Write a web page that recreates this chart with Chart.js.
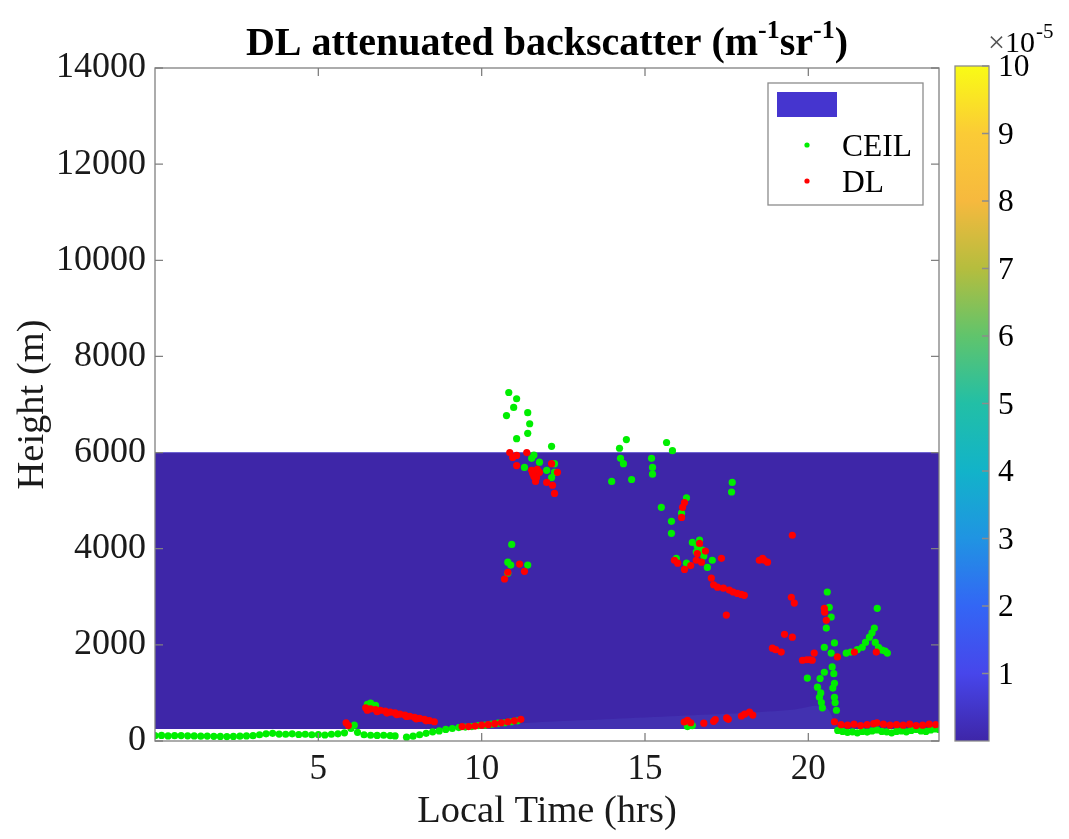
<!DOCTYPE html>
<html>
<head>
<meta charset="utf-8">
<title>DL attenuated backscatter</title>
<script src="https://cdn.jsdelivr.net/npm/chart.js@4.4.1/dist/chart.umd.min.js"></script>
<style>
html,body{margin:0;padding:0;background:#fff}
canvas{display:block}
</style>
</head>
<body>
<canvas id="myChart" width="1069" height="839"></canvas>
<script>
// ticks
const timeTicks = [5, 10, 15, 20];
const heightTicks = [0, 2000, 4000, 6000, 8000, 10000, 12000, 14000];
const cbarTicks = [1, 2, 3, 4, 5, 6, 7, 8, 9, 10];

// backscatter curtain (range of the DL data)
const layerTime = [0, 24];
const layerTop = [6000, 6000];
const layerBase = 250;

// faint aerosol haze at the bottom of the curtain
const hazeTime = [9.5, 10.5, 12, 14, 16, 18, 19.5, 20.5, 20.9];
const hazeTop = [260, 330, 400, 460, 520, 580, 650, 720, 260];

// CEIL cloud base, green
const ceilLowTime = [0.0,0.2,0.4,0.6,0.8,1.0,1.2,1.4,1.6,1.8,2.0,2.2,2.4,2.6,2.8,3.0,3.2,3.4,3.6,3.8,4.0,4.2,4.4,4.6,4.8,5.0,5.2,5.4,5.6,5.8,6.0,6.1,6.2,6.4,6.6,6.8,7.0,7.2,7.35];
const ceilLowHeight = [110,115,105,110,112,108,105,100,102,98,95,92,95,100,105,110,130,150,160,145,140,150,135,140,130,135,125,140,150,170,260,330,180,130,120,115,120,110,105];
const ceilRiseTime = [7.7,7.9,8.1,8.3,8.5,8.7,8.9,9.1,9.3,9.5,9.7,9.9,10.1,10.3,10.5,10.7,10.9,11.1,6.5,6.6,6.75];
const ceilRiseHeight = [80,100,130,160,190,210,240,260,280,290,300,320,330,350,370,380,400,420,760,790,740];
const ceilCloudTime = [10.83,11.07,10.98,10.76,11.41,11.47,11.41,11.07,12.14,14.22,14.43,14.25,14.34,13.98,14.59,15.20,15.23,15.23,15.66,15.84,15.50,15.81,15.81,16.27,16.12,
  11.53,11.31,11.77,11.99,12.23,12.23,12.14,11.6,
  10.92,10.80,10.89,11.41,10.80,
  16.45,16.67,16.76,15.96,17.06,16.57,16.27,16.91,16.6,16.8,17.67,17.65];
const ceilCloudHeight = [7250,7120,6940,6770,6830,6600,6400,6290,6130,6090,6270,5880,5770,5400,5440,5880,5690,5550,6210,6040,4860,4570,4320,5060,4740,
  5880,5690,5800,5630,5770,5590,5480,5950,
  4090,3720,3660,3660,3490,
  4130,4180,3970,3800,3760,3930,3700,3610,4050,3850,5380,5180];
const ceilEveTime = [20.58,20.64,20.70,20.55,20.49,20.70,20.73,20.49,19.97,20.28,20.34,20.43,20.80,20.80,20.86,21.16,21.65,21.87,22.02,22.11,22.26,22.42,20.80,
  20.38,20.40,20.36,20.75,20.82,20.78,21.3,21.5,21.75,21.95,22.05,22.15,22.35,16.3,16.45];
const ceilEveHeight = [3100,2780,2580,2350,1950,1830,1540,1430,1310,1120,910,690,1200,910,640,1830,1950,2160,2350,2760,1890,1830,2040,
  1000,800,1300,1100,800,1400,1850,1900,2050,2250,2050,1950,1870,300,320];
const ceilNightTime = [20.9,21.05,21.2,21.35,21.5,21.65,21.8,21.95,22.1,22.25,22.4,22.55,22.7,22.85,23.0,23.15,23.3,23.45,23.6,23.75,23.9,24.0];
const ceilNightHeight = [220,200,180,190,170,200,185,210,230,200,190,170,200,210,190,220,240,210,200,230,250,240];

// DL cloud base, red
const dlLowTime = [5.85,5.92,6.45,6.6,6.75,6.9,7.05,7.2,7.35,7.5,7.65,7.8,7.95,8.1,8.25,8.4,8.55,
  6.5,6.8,7.1,7.4,7.7,8.0,8.3,
  9.4,9.6,9.8,10.0,10.2,10.4,10.6,10.8,11.0,11.2];
const dlLowHeight = [380,320,690,670,655,640,620,600,585,560,540,515,490,470,450,425,400,
  640,610,580,550,510,460,420,
  300,300,310,330,340,360,380,400,420,450];
const dlCloudTime = [10.86,11.07,11.38,11.07,11.56,11.68,11.53,11.99,12.17,12.23,12.32,12.14,11.77,11.65,11.6,11.7,10.95,
  10.80,10.70,11.16,11.31,
  16.21,16.15,16.12];
const dlCloudHeight = [6000,5940,6000,5730,5570,5480,5630,5380,5320,5150,5590,5770,5590,5400,5500,5650,5900,
  3510,3370,3680,3530,
  4960,4860,4650];
const dlEveTime = [15.90,16.21,16.57,16.73,16.67,17.34,17.03,17.22,17.58,17.83,18.04,17.49,18.65,18.50,19.51,19.48,19.57,19.27,19.51,18.90,19.17,19.82,20.12,20.18,20.49,20.55,20.89,21.41,22.08,
  16.0,16.4,16.6,16.85,17.1,17.4,17.7,17.95,18.6,18.75,19.0,19.95,20.05,20.5];
const dlEveHeight = [3760,3570,3760,3720,4110,3800,3390,3200,3140,3070,3030,2620,3760,3760,4280,2990,2870,2220,2160,1930,1850,1680,1680,1830,2760,2510,1750,1850,1850,
  3700,3650,3900,3950,3250,3180,3100,3050,3800,3720,1900,1690,1690,2680];
const dlNightTime = [16.2,16.3,16.4,16.8,17.1,17.15,17.5,17.55,17.95,18.05,18.2,18.3,
  20.8,21.0,21.2,21.4,21.6,21.8,22.0,22.1,22.3,22.5,22.7,22.9,23.1,23.3,23.5,23.7,23.9];
const dlNightHeight = [395,430,380,370,410,445,480,450,520,560,600,540,
  400,340,330,350,320,340,360,380,350,330,340,330,350,320,330,350,340];

const serif = '"Liberation Serif", "Times New Roman", serif';
const ink = '#1a1a1a';

function pts(t, h) { return t.map((v, i) => ({x: v, y: h[i]})); }

const ceilPts = [].concat(pts(ceilLowTime, ceilLowHeight), pts(ceilRiseTime, ceilRiseHeight),
  pts(ceilCloudTime, ceilCloudHeight), pts(ceilEveTime, ceilEveHeight), pts(ceilNightTime, ceilNightHeight));
const dlPts = [].concat(pts(dlLowTime, dlLowHeight), pts(dlCloudTime, dlCloudHeight),
  pts(dlEveTime, dlEveHeight), pts(dlNightTime, dlNightHeight));

// old-style parula colour stops
const parula = [[0,'#3e26a8'],[0.1,'#4746eb'],[0.2,'#3366f5'],[0.3,'#2094e2'],[0.4,'#12b3c9'],
  [0.5,'#22bfa6'],[0.6,'#60c46c'],[0.7,'#b5bd3e'],[0.8,'#f6b93e'],[0.9,'#fbcb36'],[1,'#f9fb15']];

function richText(ctx, parts, cx, base, size) {
  let w = 0;
  parts.forEach(p => {
    ctx.font = 'bold ' + (p.sup ? size * 0.65 : size) + 'px ' + serif;
    p.w = ctx.measureText(p.t).width;
    w += p.w;
  });
  let x = cx - w / 2;
  parts.forEach(p => {
    ctx.font = 'bold ' + (p.sup ? size * 0.65 : size) + 'px ' + serif;
    ctx.fillText(p.t, x, p.sup ? base - size * 0.42 : base);
    x += p.w;
  });
}

const decor = {
  id: 'decor',
  afterDraw(chart) {
    const {ctx, chartArea: a} = chart;
    const sx = chart.scales.x, sy = chart.scales.y;
    ctx.save();

    // box and inside ticks
    ctx.strokeStyle = '#808080';
    ctx.lineWidth = 1.3;
    ctx.beginPath();
    sx.ticks.forEach(t => {
      const px = sx.getPixelForValue(t.value);
      ctx.moveTo(px, a.bottom); ctx.lineTo(px, a.bottom - 8);
      ctx.moveTo(px, a.top); ctx.lineTo(px, a.top + 8);
    });
    sy.ticks.forEach(t => {
      const py = sy.getPixelForValue(t.value);
      ctx.moveTo(a.left, py); ctx.lineTo(a.left + 8, py);
      ctx.moveTo(a.right, py); ctx.lineTo(a.right - 8, py);
    });
    ctx.stroke();
    ctx.strokeRect(a.left, a.top, a.right - a.left, a.bottom - a.top);

    // title
    ctx.fillStyle = '#000';
    ctx.textBaseline = 'alphabetic';
    ctx.textAlign = 'left';
    richText(ctx, [{t: 'DL attenuated backscatter (m'}, {t: '-1', sup: true}, {t: 'sr'},
      {t: '-1', sup: true}, {t: ')'}], (a.left + a.right) / 2, 55, 40);

    // legend
    const lx = 768, ly = 83, lw = 155, lh = 122;
    ctx.fillStyle = '#fff';
    ctx.fillRect(lx, ly, lw, lh);
    ctx.strokeStyle = '#8c8c8c';
    ctx.lineWidth = 1.3;
    ctx.strokeRect(lx, ly, lw, lh);
    ctx.fillStyle = '#4535cf';
    ctx.fillRect(777, 92, 60, 25);
    ctx.fillStyle = '#00ee00';
    ctx.beginPath(); ctx.arc(807, 145, 2.6, 0, Math.PI * 2); ctx.fill();
    ctx.fillStyle = '#ff0000';
    ctx.beginPath(); ctx.arc(807, 181, 2.6, 0, Math.PI * 2); ctx.fill();
    ctx.fillStyle = '#000';
    ctx.font = '31.5px ' + serif;
    ctx.fillText('CEIL', 842, 156);
    ctx.fillText('DL', 842, 192);

    // colorbar
    const cx0 = 955, cx1 = 989, ctop = a.top - 2, cbot = a.bottom;
    const g = ctx.createLinearGradient(0, cbot, 0, ctop);
    parula.forEach(s => g.addColorStop(s[0], s[1]));
    ctx.fillStyle = g;
    ctx.fillRect(cx0, ctop, cx1 - cx0, cbot - ctop);
    ctx.strokeStyle = '#8c8c8c';
    ctx.strokeRect(cx0, ctop, cx1 - cx0, cbot - ctop);
    ctx.font = '31.5px ' + serif;
    ctx.fillStyle = '#000';
    ctx.textBaseline = 'middle';
    ctx.beginPath();
    cbarTicks.forEach(v => {
      const py = cbot - v / 10 * (cbot - ctop);
      ctx.moveTo(cx1, py); ctx.lineTo(cx1 - 7, py);
      ctx.fillText(String(v), 998, py + 2);
    });
    ctx.stroke();
    ctx.textBaseline = 'alphabetic';
    ctx.font = '30px ' + serif;
    ctx.fillStyle = '#555';
    ctx.fillText('\u00d7', 988, 52);
    const wx = ctx.measureText('\u00d7').width;
    ctx.fillStyle = '#000';
    ctx.fillText('10', 988 + wx, 52);
    const w10 = ctx.measureText('10').width;
    ctx.font = '21px ' + serif;
    ctx.fillText('-5', 988 + wx + w10 + 1, 38);

    ctx.restore();
  }
};

const ctx = document.getElementById('myChart');
new Chart(ctx, {
  type: 'scatter',
  data: {
    datasets: [
      {label: 'DL', data: dlPts, backgroundColor: '#ff0000', borderWidth: 0, pointRadius: 3.6, order: 1},
      {label: 'CEIL', data: ceilPts, backgroundColor: '#00ee00', borderWidth: 0, pointRadius: 3.6, order: 2},
      {label: 'haze', type: 'line', data: pts(hazeTime, hazeTop), fill: {value: layerBase},
        backgroundColor: 'rgba(95,125,235,0.13)', borderWidth: 0, pointRadius: 0, tension: 0.3, order: 3},
      {label: 'backscatter', type: 'line', data: pts(layerTime, layerTop), fill: {value: layerBase},
        backgroundColor: '#3e26a8', borderColor: '#6b60d2', borderWidth: 1, pointRadius: 0, order: 4}
    ]
  },
  options: {
    responsive: false,
    animation: false,
    events: [],
    layout: {padding: {top: 68, right: 130, left: 0, bottom: 0}},
    plugins: {legend: {display: false}, tooltip: {enabled: false}},
    scales: {
      x: {
        type: 'linear', min: 0, max: 24,
        afterBuildTicks: s => { s.ticks = timeTicks.map(v => ({value: v})); },
        afterFit: s => { s.height = 98; },
        grid: {display: false, drawTicks: false},
        border: {display: false},
        ticks: {color: ink, font: {family: serif, size: 35}, padding: 8, callback: v => String(v)},
        title: {display: true, text: 'Local Time (hrs)', color: ink,
          font: {family: serif, size: 38.5}, padding: {top: 0, bottom: 4}}
      },
      y: {
        type: 'linear', min: 0, max: 14000,
        afterBuildTicks: s => { s.ticks = heightTicks.map(v => ({value: v})); },
        afterFit: s => { s.width = 155; },
        grid: {display: false, drawTicks: false},
        border: {display: false},
        ticks: {color: ink, font: {family: serif, size: 36}, padding: 9, callback: v => String(v)},
        title: {display: true, text: 'Height (m)', color: ink,
          font: {family: serif, size: 38.5}, padding: {top: 10, bottom: 0}}
      }
    }
  },
  plugins: [decor]
});
</script>
</body>
</html>
